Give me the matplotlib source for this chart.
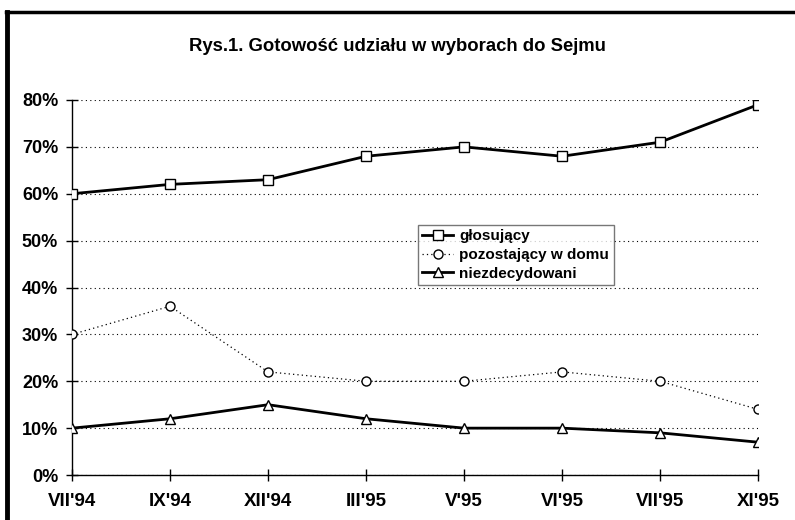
import matplotlib
matplotlib.use("Agg")
import matplotlib.pyplot as plt
from matplotlib.lines import Line2D

months = ["VII'94", "IX'94", "XII'94", "III'95", "V'95", "VI'95", "VII'95", "XI'95"]
glosujacy = [60, 62, 63, 68, 70, 68, 71, 79]
pozostajacy = [30, 36, 22, 20, 20, 22, 20, 14]
niezdecydowani = [10, 12, 15, 12, 10, 10, 9, 7]
yticks = [0, 10, 20, 30, 40, 50, 60, 70, 80]

plt.rcParams["font.family"] = ["Liberation Sans", "DejaVu Sans"]
plt.rcParams["font.weight"] = "bold"

fig = plt.figure(figsize=(7.95, 5.2), dpi=100)
ax = fig.add_axes([0.0906, 0.0865, 0.863, 0.7212])

x = list(range(len(months)))
ax.plot(x, glosujacy, color="black", lw=2, marker="s", ms=6.5,
        mfc="white", mec="black", mew=1, label="głosujący", zorder=3)
ax.plot(x, pozostajacy, color="black", lw=0.9, ls=(0, (1, 2.5)), marker="o", ms=6.5,
        mfc="white", mec="black", mew=1, label="pozostający w domu", zorder=3)
ax.plot(x, niezdecydowani, color="black", lw=2, marker="^", ms=6.5,
        mfc="white", mec="black", mew=1, label="niezdecydowani", zorder=3)

ax.set_xlim(0, len(months) - 1)
ax.set_ylim(0, 80)
ax.set_xticks(x)
ax.set_xticklabels(months, fontsize=13.5, fontweight="bold")
ax.set_yticks(yticks)
ax.set_yticklabels([f"{v}%" for v in yticks], fontsize=13, fontweight="bold")
ax.tick_params(axis="both", direction="inout", length=8, width=1, color="black")
ax.tick_params(axis="x", pad=9)
ax.tick_params(axis="y", pad=6)

for s in ["top", "right"]:
    ax.spines[s].set_visible(False)
for s in ["left", "bottom"]:
    ax.spines[s].set_linewidth(1)

ax.yaxis.grid(True, color="black", ls=(0, (1, 3)), lw=0.8)
ax.set_axisbelow(True)

leg = ax.legend(loc="upper left", bbox_to_anchor=(0.504, 0.667), fontsize=11,
                frameon=True, fancybox=False, edgecolor="#555555",
                handlelength=2.0, handletextpad=0.4, borderpad=0.3,
                labelspacing=0.3, borderaxespad=0)
leg.get_frame().set_linewidth(1)
for t in leg.get_texts():
    t.set_fontweight("bold")

fig.text(0.5, 0.91, "Rys.1. Gotowość udziału w wyborach do Sejmu",
         ha="center", va="center", fontsize=13.3, fontweight="bold")

# thick frame edge (left and top)
fig.add_artist(Line2D([0.009, 0.009], [0, 0.977], color="black", lw=3.5,
                      transform=fig.transFigure))
fig.add_artist(Line2D([0.007, 1.0], [0.976, 0.976], color="black", lw=2.5,
                      transform=fig.transFigure))

fig.savefig("out.png", dpi=100)
